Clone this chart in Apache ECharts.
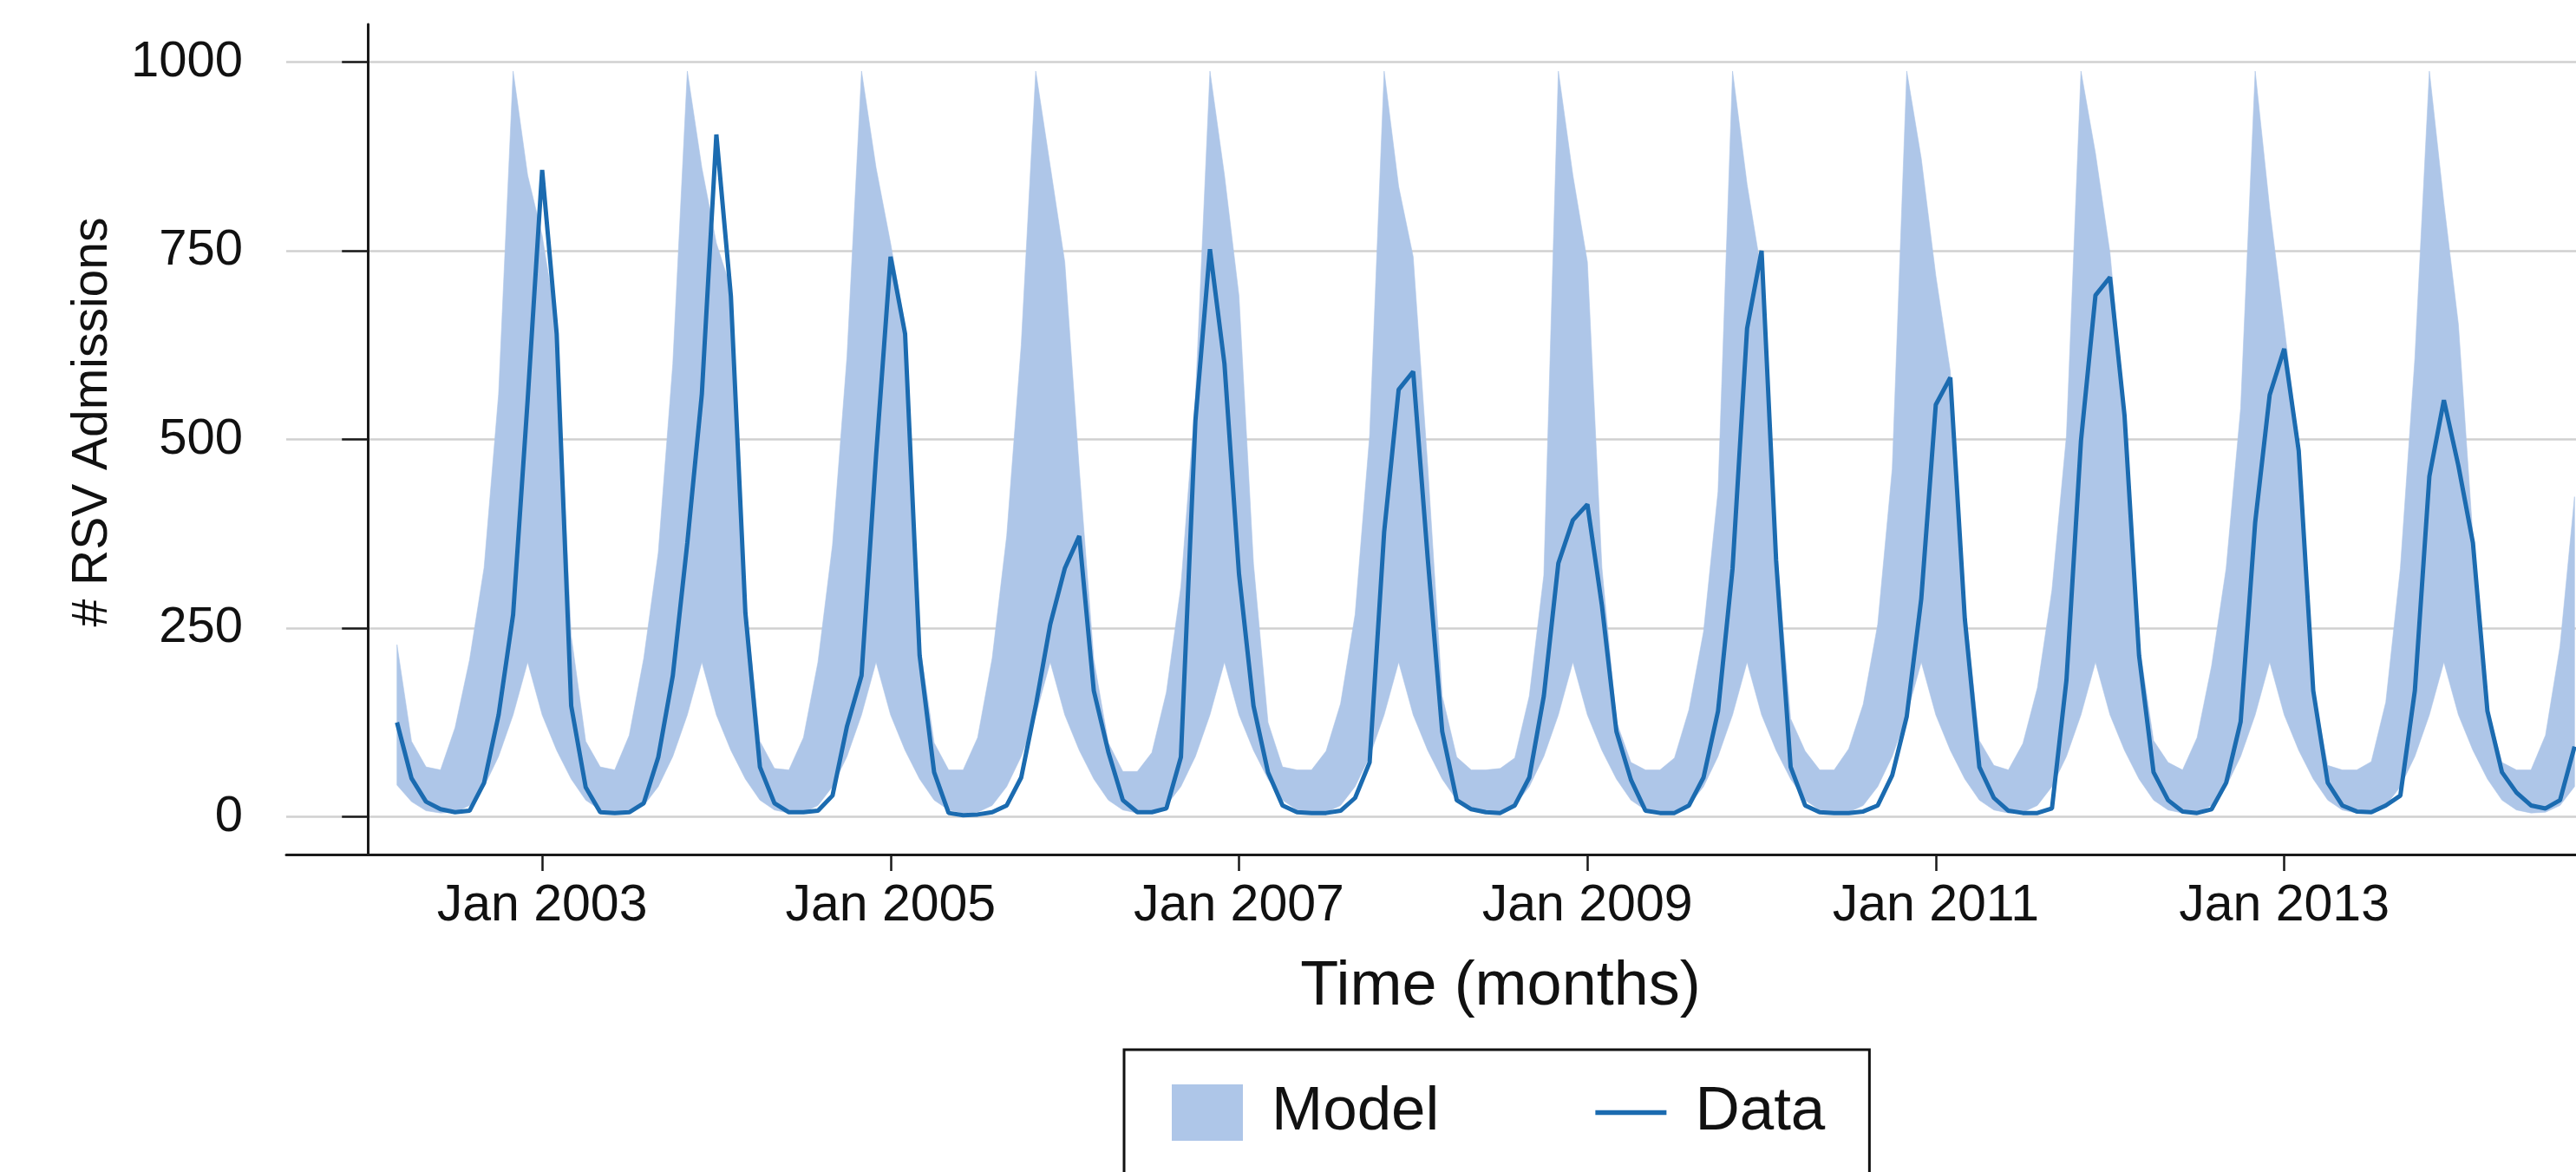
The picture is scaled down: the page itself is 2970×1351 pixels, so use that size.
<!DOCTYPE html>
<html>
<head>
<meta charset="utf-8">
<script src="https://cdn.jsdelivr.net/npm/echarts@6/dist/echarts.min.js"></script>
<style>
html,body{margin:0;padding:0;background:#ffffff;}
#chart{width:2970px;height:1351px;}
</style>
</head>
<body>
<div id="chart"></div>
<script>
// x values are months counted from Jan 2002 (0 = Jan 2002); first observation = Mar 2002
const startMonth = 2;

// Observed monthly RSV admissions (Mar 2002 ... Sep 2014)
const dataCounts = [
  125, 51, 20, 10, 6, 8, 45, 135, 268, 552,            // Mar02-Dec02
  857, 640, 147, 39, 6, 5, 6, 18, 79, 187, 363, 560,   // 2003
  904, 690, 270, 66, 18, 6, 6, 8, 28, 120, 187, 478,   // 2004
  742, 640, 214, 59, 5, 2, 3, 6, 15, 52, 147, 255,     // 2005
  329, 372, 167, 86, 22, 6, 6, 11, 79, 525, 752, 600,  // 2006
  322, 147, 59, 15, 6, 5, 5, 8, 25, 72, 377, 566,      // 2007
  590, 343, 113, 22, 10, 6, 5, 15, 52, 160, 336, 393,  // 2008
  414, 280, 113, 49, 8, 5, 5, 15, 52, 140, 329, 647,   // 2009
  750, 340, 66, 15, 6, 5, 5, 7, 15, 55, 133, 289,      // 2010
  546, 582, 262, 66, 25, 8, 5, 5, 11, 181, 498, 691,   // 2011
  715, 532, 214, 59, 22, 7, 5, 10, 45, 126, 390, 559,  // 2012
  620, 485, 167, 45, 15, 7, 6, 15, 28, 167, 451, 552,  // 2013
  465, 363, 140, 59, 32, 15, 11, 22, 93                // Jan14-Sep14
];

// Model band: lower bound
const modelLower = [
  42, 20, 8, 5, 6, 15, 40, 80, 135, 205,
  135, 88, 50, 22, 9, 5, 6, 15, 40, 80, 135, 205,
  135, 88, 50, 22, 9, 5, 6, 15, 40, 80, 135, 205,
  135, 88, 50, 22, 9, 5, 6, 15, 40, 80, 135, 205,
  135, 88, 50, 22, 9, 5, 6, 15, 40, 80, 135, 205,
  135, 88, 50, 22, 9, 5, 6, 15, 40, 80, 135, 205,
  135, 88, 50, 22, 9, 5, 6, 15, 40, 80, 135, 205,
  135, 88, 50, 22, 9, 5, 6, 15, 40, 80, 135, 205,
  135, 88, 50, 22, 9, 5, 6, 15, 40, 80, 135, 205,
  135, 88, 50, 22, 9, 5, 6, 15, 40, 80, 135, 205,
  135, 88, 50, 22, 9, 5, 6, 15, 40, 80, 135, 205,
  135, 88, 50, 22, 9, 5, 6, 15, 40, 80, 135, 205,
  135, 88, 50, 22, 9, 5, 6, 15, 40
];

// Model band: upper bound
const modelUpper = [
  228, 100, 66, 62, 118, 208, 330, 560, 988, 850,
  770, 650, 240, 100, 66, 62, 108, 210, 350, 600, 988, 860,
  760, 700, 290, 100, 64, 62, 105, 205, 360, 610, 988, 860,
  760, 650, 230, 98, 62, 62, 105, 210, 372, 625, 988, 862,
  735, 460, 208, 98, 60, 60, 85, 165, 305, 555, 988, 850,
  690, 335, 125, 66, 62, 62, 87, 150, 268, 505, 988, 835,
  742, 465, 160, 79, 62, 62, 64, 78, 160, 320, 988, 850,
  735, 330, 126, 72, 62, 62, 78, 142, 245, 431, 988, 838,
  720, 360, 130, 87, 62, 62, 90, 149, 255, 461, 988, 872,
  717, 590, 280, 101, 68, 62, 97, 171, 300, 505, 988, 879,
  747, 540, 230, 101, 72, 62, 105, 200, 329, 541, 988, 806,
  650, 490, 170, 68, 62, 62, 73, 152, 329, 607, 988, 813,
  652, 370, 145, 72, 62, 62, 108, 226, 424
];

const tickMonths = [12, 36, 60, 84, 108, 132];
const tickLabels = ['Jan 2003', 'Jan 2005', 'Jan 2007', 'Jan 2009', 'Jan 2011', 'Jan 2013'];
const yTicks = [0, 250, 500, 750, 1000];

const bandColor = '#aec6e8';
const lineColor = '#1b6bb0';
const font = 'Liberation Sans, Arial, Helvetica, sans-serif';

const bandData = modelUpper.map((v, i) => [startMonth + i, modelLower[i], v]);
const dataSeries = dataCounts.map((v, i) => [startMonth + i, v]);

// Draws the model band as one polygon, placing every vertex through the axes' scales.
function renderBand(params, api) {
  if (params.dataIndexInside !== 0) return null;
  const n = params.dataInsideLength;
  const top = [], bottom = [];
  for (let i = 0; i < n; i++) {
    const x = api.value(0, i);
    top.push(api.coord([x, api.value(2, i)]));
    bottom.push(api.coord([x, api.value(1, i)]));
  }
  const pts = top.concat(bottom.reverse());
  return {
    type: 'polygon',
    shape: {points: pts},
    style: {fill: bandColor, stroke: bandColor, lineWidth: 0.6}
  };
}

const chart = echarts.init(document.getElementById('chart'), null, {renderer: 'canvas'});
chart.setOption({
  animation: false,
  backgroundColor: '#ffffff',
  textStyle: {fontFamily: font, color: '#111'},
  grid: {left: 330, right: 0, top: 28, bottom: 366, containLabel: false},
  xAxis: {
    type: 'value',
    min: -5.63,
    max: 152.1,
    name: 'Time (months)',
    nameLocation: 'middle',
    nameGap: 117,
    nameTextStyle: {fontSize: 72, color: '#111', fontFamily: font, padding: [0, 0, 0, 160]},
    axisLine: {show: true, onZero: false, lineStyle: {color: '#1a1a1a', width: 3}},
    axisTick: {show: true, length: 19, customValues: tickMonths, lineStyle: {color: '#1a1a1a', width: 2.5}},
    axisLabel: {
      show: true, margin: 30, fontSize: 59, color: '#111', fontFamily: font,
      customValues: tickMonths,
      formatter: function (v) { const k = tickMonths.indexOf(Math.round(v)); return k >= 0 ? tickLabels[k] : ''; }
    },
    splitLine: {show: false}
  },
  yAxis: {
    type: 'value',
    min: -50,
    max: 1050,
    name: '# RSV Admissions',
    nameLocation: 'middle',
    nameGap: 194,
    nameTextStyle: {fontSize: 57, color: '#111', fontFamily: font, padding: [0, 0, 0, 40]},
    axisLine: {show: true, lineStyle: {color: '#1a1a1a', width: 3}},
    axisTick: {show: true, length: 30, customValues: yTicks, lineStyle: {color: '#1a1a1a', width: 2.5}},
    axisLabel: {
      show: true, margin: 50, fontSize: 58, color: '#111', fontFamily: font, customValues: yTicks,
      formatter: function (v) { return String(v); }
    },
    splitLine: {show: true, lineStyle: {color: '#d0d0d0', width: 2.5}}
  },
  legend: {
    show: true,
    orient: 'horizontal',
    left: 1296,
    top: 1210,
    padding: [37, 51, 120, 55],
    borderColor: '#111',
    borderWidth: 3,
    backgroundColor: '#ffffff',
    itemWidth: 82,
    itemHeight: 65,
    itemGap: 180,
    symbolKeepAspect: true,
    textStyle: {fontSize: 71, color: '#111', fontFamily: font, padding: [0, 0, 0, 28]},
    data: [
      {name: 'Model', icon: 'rect', itemStyle: {color: bandColor, borderWidth: 0}},
      {name: 'Data', icon: 'path://M0,0H72V5H0Z', itemStyle: {color: lineColor, borderWidth: 0}}
    ]
  },
  series: [
    {
      name: 'Model', type: 'custom', data: bandData,
      encode: {x: 0, y: [1, 2]},
      renderItem: renderBand, clip: true, silent: true,
      itemStyle: {color: bandColor}, z: 1
    },
    {
      name: 'Data', type: 'line', data: dataSeries, symbol: 'none', showSymbol: false,
      color: lineColor, lineStyle: {color: lineColor, width: 5}, z: 3
    }
  ]
});
</script>
</body>
</html>
